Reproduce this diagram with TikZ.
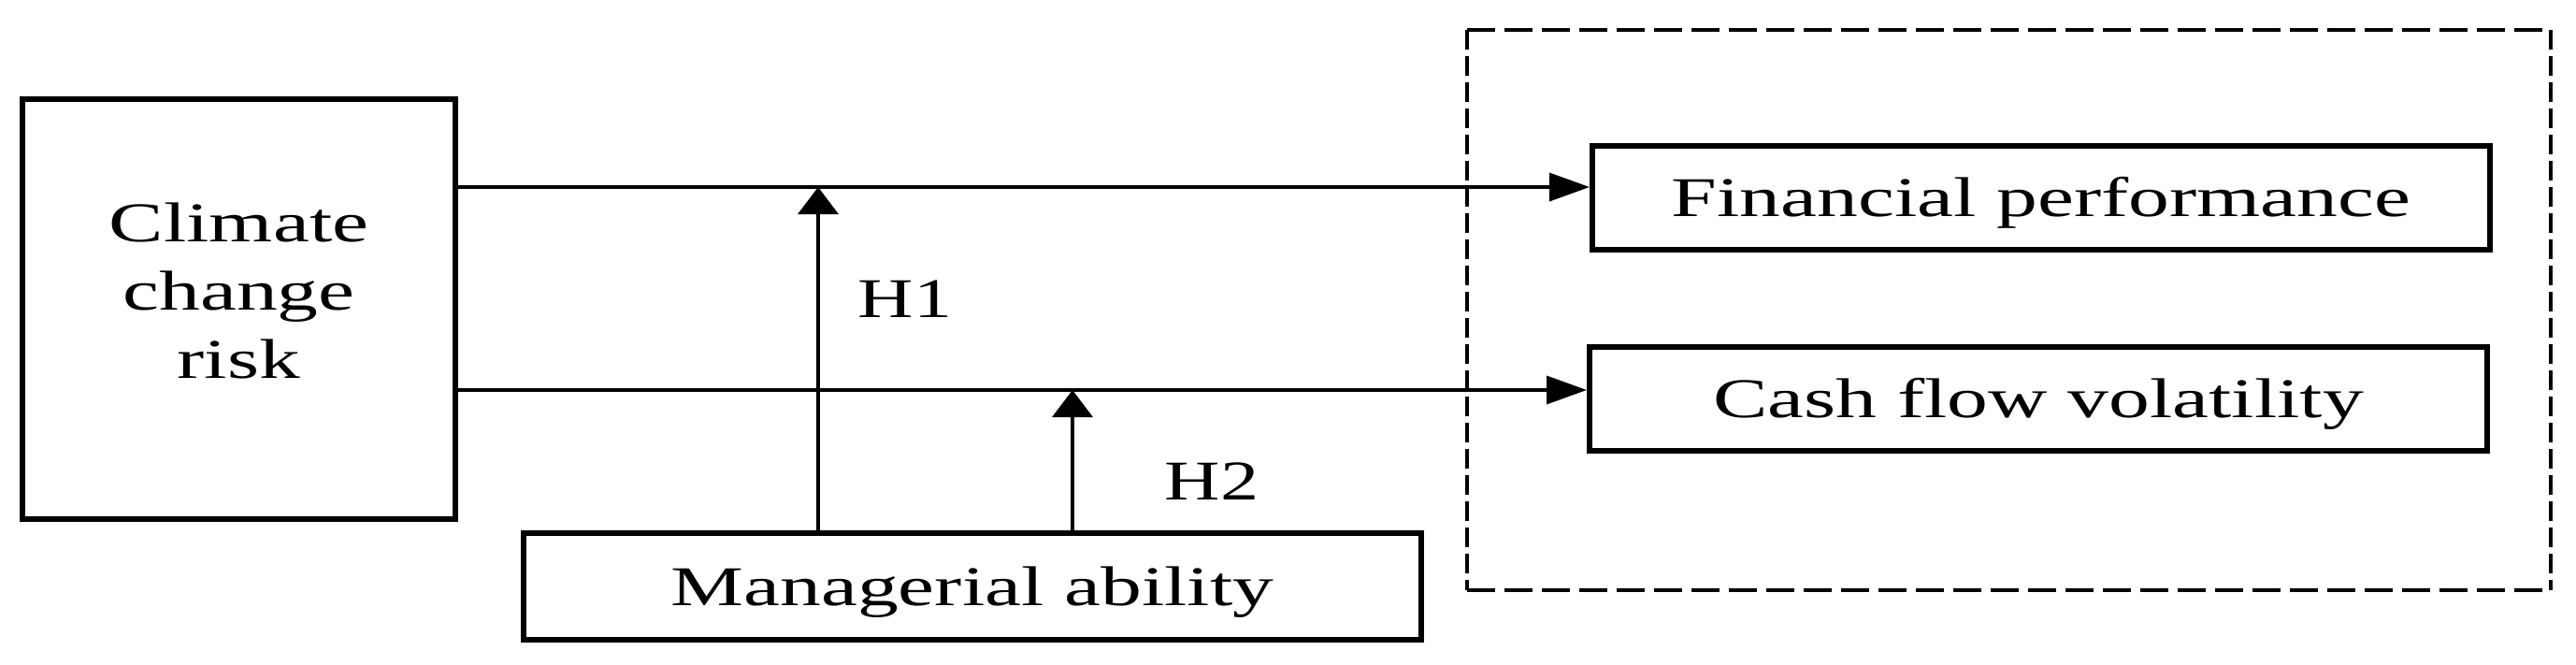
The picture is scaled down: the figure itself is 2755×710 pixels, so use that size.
\documentclass[tikz,border=0pt]{standalone}
\usepackage{fontspec}
\setmainfont{Liberation Serif}
\usetikzlibrary{arrows.meta}
\newcommand{\sxtext}[1]{\scalebox{1.46}[1]{#1}}
\begin{document}
\begin{tikzpicture}[x=0.25pt,y=-0.25pt,
  box/.style={draw, line width=1.5pt, inner sep=0pt, font=\fontsize{15}{18.25}\selectfont},
  onebox/.style={box, minimum width=240pt, minimum height=27.75pt, text height=11pt, text depth=1pt},
  link/.style={line width=0.9pt},
  harrow/.style={link, -{Triangle[length=10.75pt,width=7.5pt]}},
  varrow/.style={link, -{Triangle[length=7.25pt,width=10.75pt]}},
  hlab/.style={font=\fontsize{15}{18}\selectfont, inner sep=0pt, anchor=base west},
  hdash/.style={line width=0.85pt, dash pattern=on 7.5pt off 2.5pt},
  vdash/.style={line width=0.95pt, dash pattern=on 5.25pt off 1.75pt}]
\useasboundingbox (0,0) rectangle (2755,710);
\node[box, minimum width=115.75pt, minimum height=112.25pt, align=center] (clim) at (255.5,330.5)
  {\sxtext{Climate}\\\sxtext{change}\\\sxtext{risk}\rule[-10pt]{0pt}{10pt}};
\node[onebox] (fin) at (2183,211.5) {\sxtext{Financial performance}};
\node[onebox] (cash) at (2180,426.5) {\sxtext{Cash flow volatility}};
\node[onebox, minimum height=28.5pt] (man) at (1040,627) {\sxtext{Managerial ability}};
\coordinate (r1) at (0,200);
\coordinate (r2) at (0,417);
\coordinate (m1) at (875,200);
\coordinate (m2) at (1147,417);
\draw[harrow] (clim.east |- r1) -- (fin.west |- r1);
\draw[harrow] (clim.east |- r2) -- (cash.west |- r2);
\draw[varrow] (man.north -| m1) -- (m1);
\draw[varrow] (man.north -| m2) -- (m2);
\node[hlab] (l1) at (917,339) {\scalebox{1.37}[1]{H1}};
\node[hlab] (l2) at (1245,534) {\scalebox{1.37}[1]{H2}};
\draw[hdash] (1569,32) -- (2728,32);
\draw[hdash] (1569,631) -- (2728,631);
\draw[vdash] (1569,32) -- (1569,631);
\draw[vdash] (2728,32) -- (2728,631);
\end{tikzpicture}
\end{document}
